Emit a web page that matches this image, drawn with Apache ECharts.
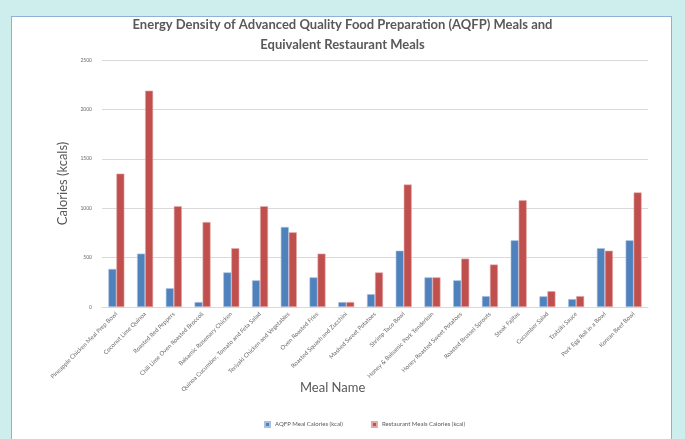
<!DOCTYPE html>
<html>
<head>
<meta charset="utf-8">
<script src="https://cdn.jsdelivr.net/npm/echarts@6/dist/echarts.min.js"></script>
<style>
  html, body { margin: 0; padding: 0; }
  body { width: 685px; height: 439px; background: #cdeeec; position: relative; overflow: hidden; }
  #panel { position: absolute; left: 11px; top: 16px; width: 661px; height: 440px; background: #ffffff; border: 1px solid #8fb0d8; box-sizing: border-box; }
  #chart { position: absolute; left: 0; top: 0; width: 685px; height: 439px; }
</style>
</head>
<body>
<div id="panel"></div>
<div id="chart"></div>
<script>
const categories = [
  "Pineapple Chicken Meal Prep Bowl",
  "Coconut Lime Quinoa",
  "Roasted Red Peppers",
  "Chili Lime Oven Roasted Broccoli",
  "Balsamic Rosemary Chicken",
  "Quinoa Cucumber, Tomato and Feta Salad",
  "Teriyaki Chicken and Vegetables",
  "Oven Roasted Fries",
  "Roasted Squash and Zucchini",
  "Mashed Sweet Potatoes",
  "Shrimp Taco Bowl",
  "Honey & Balsamic Pork Tenderloin",
  "Honey Roasted Sweet Potatoes",
  "Roasted Brussel Sprouts",
  "Steak Fajitas",
  "Cucumber Salad",
  "Tzatziki Sauce",
  "Pork Egg Roll in a Bowl",
  "Korean Beef Bowl"
];
const aqfpCalories = [385, 540, 190, 50, 350, 270, 810, 300, 50, 130, 570, 300, 270, 110, 675, 108, 80, 595, 675];
const restaurantCalories = [1350, 2190, 1020, 860, 595, 1020, 756, 540, 50, 350, 1240, 300, 490, 430, 1080, 160, 110, 570, 1160];
const seriesNames = ["AQFP Meal Calories (kcal)", "Restaurant Meals Calories (kcal)"];
const xAxisTitle = "Meal Name";

const chart = echarts.init(document.getElementById('chart'), null, { renderer: 'canvas' });
chart.setOption({
  animation: false,
  backgroundColor: 'transparent',
  title: {
    text: 'Energy Density of Advanced Quality Food Preparation (AQFP) Meals and\nEquivalent Restaurant Meals',
    left: 'center',
    top: 10,
    textStyle: { fontFamily: 'Lato', fontSize: 13, fontWeight: 'bold', color: '#595959', lineHeight: 20 }
  },
  legend: {
    bottom: 6,
    left: 259,
    itemWidth: 5,
    itemHeight: 5,
    itemGap: 28,
    icon: 'rect',
    textStyle: { fontFamily: 'Lato', fontSize: 6, color: '#595959' },
    data: seriesNames
  },
  graphic: [{
    type: 'text',
    left: 333 - 33,
    top: 381,
    style: { text: xAxisTitle, fontFamily: 'Lato', fontSize: 13, fill: '#595959', width: 66, align: 'center' }
  }],
  grid: { left: 102, right: 37, top: 60, bottom: 132, containLabel: false },
  xAxis: {
    type: 'category',
    data: categories,
    axisLine: { lineStyle: { color: '#d9d9d9' } },
    axisTick: { show: false },
    axisLabel: { rotate: 45, interval: 0, fontFamily: 'Lato', fontSize: 6, color: '#6b6b6b', margin: 6 }
  },
  yAxis: {
    type: 'value',
    min: 0,
    max: 2500,
    interval: 500,
    name: 'Calories (kcals)',
    nameLocation: 'middle',
    nameGap: 32,
    nameTextStyle: { fontFamily: 'Lato', fontSize: 13, color: '#595959' },
    axisLine: { show: false },
    axisTick: { show: false },
    axisLabel: { fontFamily: 'Lato', fontSize: 5, color: '#6b6b6b', margin: 10, formatter: function (v) { return String(v); } },
    splitLine: { lineStyle: { color: '#d9d9d9' } }
  },
  series: [
    {
      name: seriesNames[0], type: 'bar', data: aqfpCalories, barWidth: 8, barGap: '0%',
      itemStyle: { color: '#4f81bd', borderColor: '#a9c1e0', borderWidth: 0.6 }
    },
    {
      name: seriesNames[1], type: 'bar', data: restaurantCalories, barWidth: 8,
      itemStyle: { color: '#c0504d', borderColor: '#e3a9a7', borderWidth: 0.6 }
    }
  ]
});
</script>
</body>
</html>
